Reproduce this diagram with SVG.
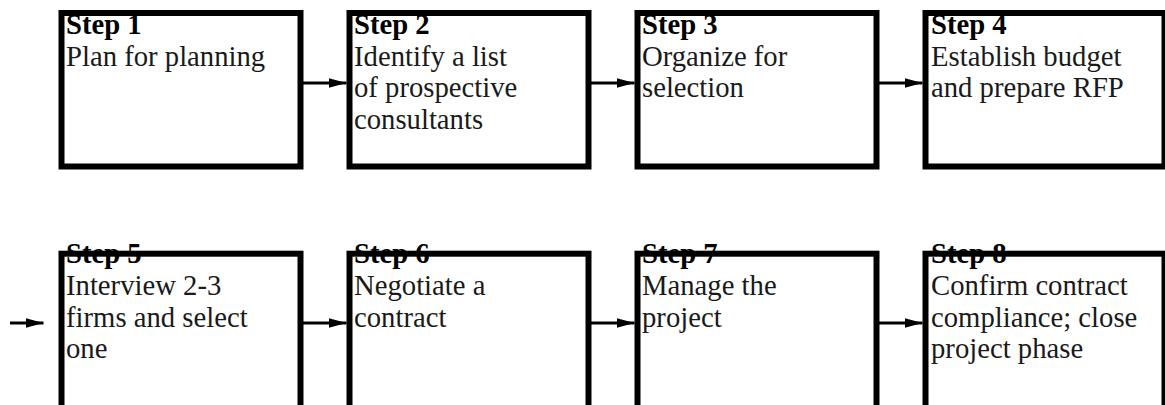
<svg xmlns="http://www.w3.org/2000/svg" width="1165" height="405" viewBox="0 0 1165 405">
<style>
.box{fill:none;stroke:#000;stroke-width:6}
.t{font-family:"Liberation Serif","Times New Roman",serif;font-size:28.7px;fill:#1a1a1a}
.h{font-weight:bold;fill:#000}
.c{stroke:#000;stroke-width:3;fill:none}
</style>
<defs>
<marker id="ah" markerUnits="userSpaceOnUse" markerWidth="20" markerHeight="12" refX="18" refY="5" orient="auto">
<path d="M0,0 L18,5 L0,10 Z" fill="#000"/>
</marker>
</defs>
<rect width="1165" height="405" fill="#fff"/>
<g id="step1">
<text class="t"><tspan class="h" x="66" y="34">Step 1</tspan><tspan x="66" y="65.5">Plan for planning</tspan></text>
<rect class="box" x="61.5" y="13" width="239" height="153.5"/>
</g>
<g id="step2">
<text class="t"><tspan class="h" x="354" y="34">Step 2</tspan><tspan x="354" y="65.5">Identify a list</tspan><tspan x="354" y="97">of prospective</tspan><tspan x="354" y="128.5">consultants</tspan></text>
<rect class="box" x="349.5" y="13" width="239" height="153.5"/>
</g>
<g id="step3">
<text class="t"><tspan class="h" x="642" y="34">Step 3</tspan><tspan x="642" y="65.5">Organize for</tspan><tspan x="642" y="97">selection</tspan></text>
<rect class="box" x="637.5" y="13" width="239" height="153.5"/>
</g>
<g id="step4">
<text class="t"><tspan class="h" x="931" y="34">Step 4</tspan><tspan x="931" y="65.5">Establish budget</tspan><tspan x="931" y="97">and prepare RFP</tspan></text>
<rect class="box" x="925.5" y="13" width="239" height="153.5"/>
</g>
<g id="step5">
<text class="t"><tspan class="h" x="66" y="263">Step 5</tspan><tspan x="66" y="295">Interview 2-3</tspan><tspan x="66" y="326.5">firms and select</tspan><tspan x="66" y="358">one</tspan></text>
<rect class="box" x="61.5" y="253.7" width="239" height="170"/>
</g>
<g id="step6">
<text class="t"><tspan class="h" x="354" y="263">Step 6</tspan><tspan x="354" y="295">Negotiate a</tspan><tspan x="354" y="326.5">contract</tspan></text>
<rect class="box" x="349.5" y="253.7" width="239" height="170"/>
</g>
<g id="step7">
<text class="t"><tspan class="h" x="642" y="263">Step 7</tspan><tspan x="642" y="295">Manage the</tspan><tspan x="642" y="326.5">project</tspan></text>
<rect class="box" x="637.5" y="253.7" width="239" height="170"/>
</g>
<g id="step8">
<text class="t"><tspan class="h" x="931" y="263">Step 8</tspan><tspan x="931" y="295">Confirm contract</tspan><tspan x="931" y="326.5">compliance; close</tspan><tspan x="931" y="358">project phase</tspan></text>
<rect class="box" x="925.5" y="253.7" width="239" height="170"/>
</g>
<g id="connectors">
<line class="c" x1="303" y1="83" x2="346.5" y2="83" marker-end="url(#ah)"/>
<line class="c" x1="591" y1="83" x2="634.5" y2="83" marker-end="url(#ah)"/>
<line class="c" x1="879" y1="83" x2="922.5" y2="83" marker-end="url(#ah)"/>
<line class="c" x1="10" y1="323" x2="43.5" y2="323" marker-end="url(#ah)"/>
<line class="c" x1="303" y1="323" x2="346.5" y2="323" marker-end="url(#ah)"/>
<line class="c" x1="591" y1="323" x2="634.5" y2="323" marker-end="url(#ah)"/>
<line class="c" x1="879" y1="323" x2="922.5" y2="323" marker-end="url(#ah)"/>
</g>
</svg>
